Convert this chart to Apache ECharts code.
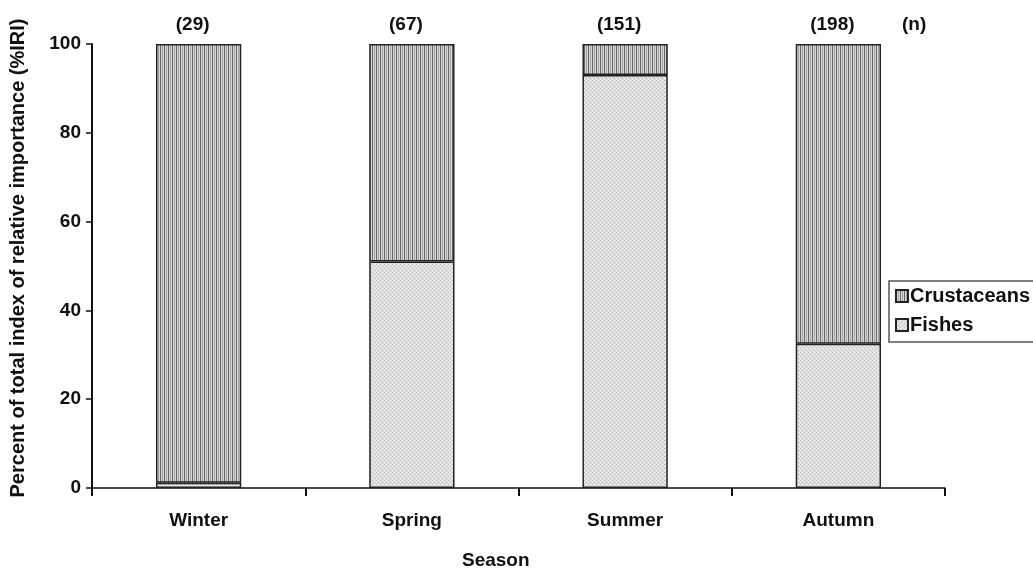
<!DOCTYPE html>
<html>
<head>
<meta charset="utf-8">
<script src="https://cdn.jsdelivr.net/npm/echarts@6/dist/echarts.min.js"></script>
<style>
html, body { margin: 0; padding: 0; background: #fff; }
#chart { width: 1033px; height: 570px; }
</style>
</head>
<body>
<div id="chart"></div>
<script>
// Seasonal diet composition (%IRI)
const seasons = ['Winter', 'Spring', 'Summer', 'Autumn'];
const sampleSizes = ['(29)', '(67)', '(151)', '(198)'];
const fishes = [1.2, 51, 93, 32.5];
const crustaceans = [98.8, 49, 7, 67.5];
const yTicks = [0, 20, 40, 60, 80, 100];

const FONT = 'Liberation Sans, Arial, sans-serif';

// Vertical hatching for crustaceans
function stripePattern() {
  const c = document.createElement('canvas');
  c.width = 4; c.height = 4;
  const g = c.getContext('2d');
  g.fillStyle = '#d8d8d8';
  g.fillRect(0, 0, 4, 4);
  g.fillStyle = '#666666';
  g.fillRect(0, 0, 1, 4);
  g.fillStyle = '#a4a4a4';
  g.fillRect(2, 0, 1, 4);
  return c;
}

// Fine stipple for fishes
function dotPattern() {
  const c = document.createElement('canvas');
  c.width = 4; c.height = 4;
  const g = c.getContext('2d');
  g.fillStyle = '#e0e0e0';
  g.fillRect(0, 0, 4, 4);
  g.fillStyle = '#b4b4b4';
  g.fillRect(0, 0, 1, 1);
  g.fillRect(2, 2, 1, 1);
  g.fillStyle = '#f4f4f4';
  g.fillRect(2, 0, 1, 1);
  g.fillRect(0, 2, 1, 1);
  return c;
}

const chart = echarts.init(document.getElementById('chart'), null, { renderer: 'canvas' });

chart.setOption({
  animation: false,
  backgroundColor: '#fff',
  textStyle: { fontFamily: FONT },
  grid: { left: 92, right: 88, top: 44, bottom: 82 },
  legend: {
    left: 889, top: 281,
    orient: 'vertical',
    data: ['Crustaceans', 'Fishes'],
    itemWidth: 12, itemHeight: 12, itemGap: 9,
    padding: [5, 12, 7, 6],
    borderColor: '#555', borderWidth: 1.5,
    textStyle: { fontFamily: FONT, fontWeight: 'bold', fontSize: 20, color: '#111', padding: [0, 0, 0, -3] },
    icon: 'rect'
  },
  xAxis: {
    type: 'category',
    data: seasons,
    axisLine: { lineStyle: { color: '#111', width: 1.5 } },
    axisTick: { show: true, length: 8, inside: false, lineStyle: { color: '#111', width: 2 } },
    axisLabel: { margin: 23, fontFamily: FONT, fontWeight: 'bold', fontSize: 19, color: '#111' }
  },
  yAxis: {
    type: 'value',
    min: 0, max: 100, interval: 20,
    axisLine: { show: true, lineStyle: { color: '#111', width: 2 } },
    axisTick: { show: true, length: 6, lineStyle: { color: '#111', width: 1.5 } },
    splitLine: { show: false },
    axisLabel: {
      margin: 11, fontFamily: FONT, fontWeight: 'bold', fontSize: 19, color: '#111',
      formatter: v => yTicks.includes(v) ? String(v) : ''
    },
    name: 'Percent of total index of relative importance (%IRI)',
    nameLocation: 'middle',
    nameGap: 64,
    nameTextStyle: { fontFamily: FONT, fontWeight: 'bold', fontSize: 20, color: '#111', padding: [0, 0, 0, 16] }
  },
  series: [
    {
      name: 'Fishes',
      type: 'bar',
      stack: 'diet',
      barWidth: '40%',
      data: fishes,
      itemStyle: {
        color: { image: dotPattern(), repeat: 'repeat' },
        borderColor: '#222', borderWidth: 1.5
      }
    },
    {
      name: 'Crustaceans',
      type: 'bar',
      stack: 'diet',
      barWidth: '40%',
      data: crustaceans,
      itemStyle: {
        color: { image: stripePattern(), repeat: 'repeat' },
        borderColor: '#222', borderWidth: 1.5
      },
      label: {
        show: true,
        position: 'top',
        distance: 10,
        offset: [-6, 0],
        formatter: p => sampleSizes[p.dataIndex],
        fontFamily: FONT, fontWeight: 'bold', fontSize: 19, color: '#111'
      }
    }
  ],
  graphic: [
    {
      type: 'text', left: 902, top: 15,
      style: { text: '(n)', fontFamily: FONT, fontWeight: 'bold', fontSize: 19, fill: '#111' }
    },
    {
      type: 'text', left: 462, top: 551,
      style: { text: 'Season', fontFamily: FONT, fontWeight: 'bold', fontSize: 19, fill: '#111' }
    }
  ]
});
</script>
</body>
</html>
